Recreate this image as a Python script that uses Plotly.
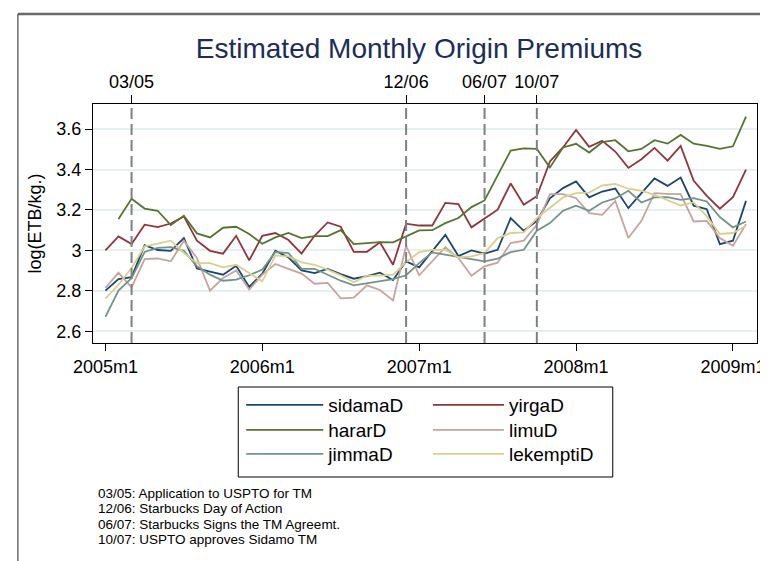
import plotly.graph_objects as go

# ---- data (2005m1 .. 2009m2, monthly) ----
years = [2005, 2006, 2007, 2008, 2009]
month_labels = [f"{y}m{m}" for y in years for m in range(1, 13)][:50]
month_idx = list(range(len(month_labels)))

sidamaD = [2.801, 2.858, 2.868, 3.026, 3.002, 2.998, 3.061, 2.911, 2.895, 2.880, 2.924, 2.819, 2.885,
           2.998, 2.965, 2.901, 2.888, 2.908, 2.883, 2.860, 2.873, 2.890, 2.853, 2.946, 2.916, 2.995,
           3.077, 2.972, 3.000, 2.984, 3.003, 3.160, 3.097, 3.146, 3.258, 3.308, 3.341, 3.262, 3.291,
           3.306, 3.209, 3.283, 3.356, 3.319, 3.360, 3.221, 3.204, 3.031, 3.048, 3.245]
yirgaD = [3.000, 3.069, 3.031, 3.127, 3.115, 3.133, 3.168, 3.048, 2.998, 2.984, 3.072, 2.951, 3.072,
          3.086, 3.051, 2.984, 3.072, 3.138, 3.117, 2.993, 2.993, 3.040, 2.929, 3.132, 3.123, 3.123,
          3.235, 3.229, 3.114, 3.156, 3.201, 3.331, 3.226, 3.268, 3.440, 3.509, 3.596, 3.512, 3.542,
          3.489, 3.408, 3.451, 3.507, 3.444, 3.517, 3.344, 3.270, 3.206, 3.263, 3.400]
hararD = [None, 3.155, 3.255, 3.207, 3.196, 3.125, 3.171, 3.084, 3.064, 3.112, 3.117, 3.081, 3.033,
          3.064, 3.086, 3.061, 3.071, 3.071, 3.100, 3.031, 3.036, 3.041, 3.040, 3.069, 3.099, 3.100,
          3.135, 3.160, 3.214, 3.247, 3.370, 3.494, 3.505, 3.502, 3.410, 3.509, 3.527, 3.484, 3.535,
          3.545, 3.490, 3.502, 3.545, 3.528, 3.571, 3.528, 3.517, 3.502, 3.515, 3.662]
limuD = [2.814, 2.890, 2.817, 2.957, 2.960, 2.946, 3.048, 2.962, 2.801, 2.863, 2.901, 2.806, 2.880,
         2.933, 2.909, 2.885, 2.835, 2.839, 2.763, 2.766, 2.827, 2.804, 2.753, 3.023, 2.877, 2.949,
         3.016, 2.962, 2.875, 2.921, 2.939, 3.036, 3.048, 3.127, 3.278, 3.278, 3.258, 3.184, 3.176,
         3.245, 3.061, 3.146, 3.283, 3.280, 3.278, 3.143, 3.146, 3.061, 3.023, 3.130]
jimmaD = [2.671, 2.801, 2.863, 2.992, 3.012, 3.016, 2.998, 2.921, 2.880, 2.850, 2.855, 2.877, 2.905,
          2.992, 2.987, 2.909, 2.909, 2.880, 2.850, 2.827, 2.837, 2.845, 2.858, 2.877, 2.937, 2.990,
          2.979, 2.965, 2.954, 2.946, 2.959, 2.992, 3.003, 3.097, 3.135, 3.196, 3.221, 3.196, 3.237,
          3.257, 3.295, 3.237, 3.262, 3.263, 3.250, 3.258, 3.242, 3.165, 3.114, 3.143]
lekemptiD = [2.761, 2.830, 2.913, 3.020, 3.033, 3.048, 2.987, 2.937, 2.937, 2.916, 2.929, 2.888, 2.847,
             2.975, 2.970, 2.941, 2.929, 2.905, 2.877, 2.842, 2.875, 2.875, 2.880, 2.942, 2.992, 3.003,
             3.003, 2.965, 2.970, 2.987, 3.061, 3.086, 3.089, 3.160, 3.209, 3.262, 3.283, 3.286, 3.321,
             3.329, 3.305, 3.295, 3.275, 3.250, 3.222, 3.237, 3.168, 3.081, 3.086, 3.122]

x_tick_labels = ["2005m1", "2006m1", "2007m1", "2008m1", "2009m1"]
y_tick_vals = [2.6, 2.8, 3.0, 3.2, 3.4, 3.6]
y_tick_text = ["2.6", "2.8", "3", "3.2", "3.4", "3.6"]

event_labels = ["03/05", "12/06", "06/07", "10/07"]
event_months = ["2005m3", "2006m12", "2007m6", "2007m10"]
notes = ["03/05: Application to USPTO for TM",
         "12/06: Starbucks Day of Action",
         "06/07: Starbucks Signs the TM Agreemt.",
         "10/07: USPTO approves Sidamo TM"]

FONT = "Liberation Sans, Arial, Helvetica, sans-serif"

L, R, T, B = 85, 11, 96, 226
W, H = 768, 561
pw, ph = W - L - R, H - T - B

def px(xp):
    return (xp - L) / pw

def py(yp):
    return (H - B - yp) / ph

# name, values, colour, legend id, legend column x, item width, row centre y (px)
series = [
    ("sidamaD", sidamaD, "#1a476f", "legend", 235, 77, 397),
    ("yirgaD", yirgaD, "#90353b", "legend2", 424, 71, 397),
    ("hararD", hararD, "#55752f", "legend3", 235, 77, 422),
    ("limuD", limuD, "#c6a49f", "legend4", 424, 71, 422),
    ("jimmaD", jimmaD, "#72948a", "legend5", 235, 77, 446),
    ("lekemptiD", lekemptiD, "#dbcf8c", "legend6", 424, 71, 446),
]

fig = go.Figure()
legend_layouts = {}
for name, vals, col, lg, lx, iw, ly in series:
    fig.add_trace(go.Scatter(x=month_idx, y=vals, mode="lines", name=name,
                             line=dict(color=col, width=1.8), legend=lg,
                             connectgaps=False))
    legend_layouts[lg] = dict(x=px(lx), y=py(ly), xanchor="left", yanchor="middle",
                              orientation="v", itemwidth=iw,
                              font=dict(family=FONT, size=19, color="#000"),
                              bgcolor="rgba(0,0,0,0)", borderwidth=0)

ev_x = [month_labels.index(m) for m in event_months]
tick_x = [month_labels.index(m) for m in x_tick_labels if m in month_labels] + [48]

# invisible trace to carry the top axis
fig.add_trace(go.Scatter(x=ev_x, y=[None] * len(ev_x), xaxis="x2", mode="markers",
                         showlegend=False, hoverinfo="skip"))

for ex in ev_x:
    fig.add_shape(type="line", xref="x", yref="paper", x0=ex, x1=ex, y0=0, y1=1,
                  line=dict(color="#808080", width=2, dash="11px,5px"))

# outer frame (partially visible)
fig.add_shape(type="line", xref="paper", yref="paper", x0=px(9), x1=px(800), y0=py(6), y1=py(6),
              line=dict(color="#6a6a6a", width=2.5))
fig.add_shape(type="line", xref="paper", yref="paper", x0=px(9), x1=px(9), y0=py(6), y1=py(600),
              line=dict(color="#444444", width=1.2))
# legend box
fig.add_shape(type="rect", xref="paper", yref="paper", x0=px(232), x1=px(611), y0=py(469), y1=py(379),
              line=dict(color="#000000", width=1))

note_y = [485, 500.5, 516, 531.5]
for t, yy in zip(notes, note_y):
    fig.add_annotation(text=t, xref="paper", yref="paper", x=px(88), y=py(yy),
                       xanchor="left", yanchor="middle", showarrow=False,
                       font=dict(family=FONT, size=13.5, color="#000000"))

fig.update_layout(
    width=W, height=H,
    margin=dict(l=L, r=R, t=T, b=B, pad=0),
    paper_bgcolor="#ffffff", plot_bgcolor="#ffffff",
    font=dict(family=FONT, size=18, color="#000000"),
    title=dict(text="Estimated Monthly Origin Premiums", xref="paper", x=px(415), xanchor="center",
               yref="container", y=1 - 40 / H, yanchor="middle",
               font=dict(family=FONT, size=28, color="#1c2d5a")),
    showlegend=True,
    xaxis=dict(range=[-0.95, 49.84], tickvals=tick_x, ticktext=x_tick_labels,
               ticks="outside", ticklen=7, tickcolor="#000", showgrid=False, zeroline=False,
               showline=True, linecolor="#000", linewidth=1, mirror=True,
               tickfont=dict(size=18)),
    xaxis2=dict(range=[-0.95, 49.84], overlaying="x", side="top", anchor="y",
                tickvals=ev_x, ticktext=event_labels, ticks="outside", ticklen=8,
                tickcolor="#000", showgrid=False, zeroline=False, showline=False,
                tickfont=dict(size=18)),
    yaxis=dict(range=[2.542, 3.724], tickvals=y_tick_vals, ticktext=y_tick_text,
               ticks="outside", ticklen=7, tickcolor="#000", showgrid=True,
               gridcolor="#e6eff1", gridwidth=1.5, zeroline=False,
               showline=True, linecolor="#000", linewidth=1, mirror=True,
               title=dict(text="log(ETB/kg.)", standoff=10, font=dict(size=18)),
               tickfont=dict(size=18)),
    **legend_layouts,
)

fig.write_html("out.html")
